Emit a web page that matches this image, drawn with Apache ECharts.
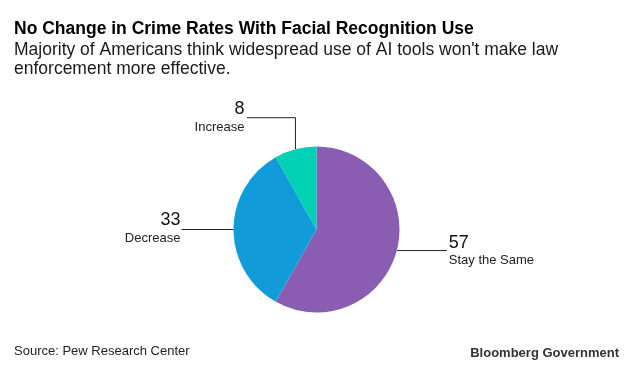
<!DOCTYPE html>
<html>
<head>
<meta charset="utf-8">
<script src="https://cdn.jsdelivr.net/npm/echarts@6/dist/echarts.min.js"></script>
<style>
  html, body { margin: 0; padding: 0; background: #fff; }
  #chart { width: 633px; height: 370px; }
</style>
</head>
<body>
<div id="chart"></div>
<script>
const titleText = 'No Change in Crime Rates With Facial Recognition Use';
const subtitleText = "Majority of Americans think widespread use of AI tools won't make law\nenforcement more effective.";
const sourceText = 'Source: Pew Research Center';
const brandText = 'Bloomberg Government';

const categories = ['Stay the Same', 'Decrease', 'Increase'];
const values = [57, 33, 8];
const colors = ['#8a5db3', '#119cd9', '#00d1b5'];

const FONT = '"Liberation Sans", Arial, sans-serif';

const chart = echarts.init(document.getElementById('chart'), null, { renderer: 'canvas' });

const data = categories.map((c, i) => ({
  name: c,
  value: values[i],
  itemStyle: { color: colors[i] }
}));

chart.setOption({
  animation: false,
  backgroundColor: '#ffffff',
  title: [
    {
      text: titleText, left: 14, top: 20.5, padding: 0,
      textStyle: { fontFamily: FONT, fontSize: 17.5, fontWeight: 'bold', color: '#000', lineHeight: 17.5 }
    },
    {
      text: subtitleText, left: 14, top: 41, padding: 0,
      textStyle: { fontFamily: FONT, fontSize: 17.5, fontWeight: 'normal', color: '#1a1a1a', lineHeight: 19 }
    },
    {
      text: sourceText, left: 14, top: 345, padding: 0,
      textStyle: { fontFamily: FONT, fontSize: 13, fontWeight: 'normal', color: '#222', lineHeight: 13 }
    },
    {
      text: brandText, right: 14, top: 347, padding: 0,
      textStyle: { fontFamily: FONT, fontSize: 13, fontWeight: 'bold', color: '#333', lineHeight: 13 }
    }
  ],
  series: [{
    type: 'pie',
    center: [316.5, 229.5],
    radius: [0, 83],
    startAngle: 90,
    clockwise: true,
    avoidLabelOverlap: false,
    silent: true,
    itemStyle: { borderWidth: 0 },
    emphasis: { disabled: true },
    label: {
      show: true,
      position: 'outside',
      formatter: p => '{v|' + p.value + '}\n{n|' + p.name + '}',
      rich: {
        v: { fontFamily: FONT, fontSize: 18, lineHeight: 20, color: '#111' },
        n: { fontFamily: FONT, fontSize: 13, lineHeight: 16, color: '#222' }
      }
    },
    labelLine: {
      show: true,
      length: 10,
      length2: 10,
      lineStyle: { color: '#222', width: 1 }
    },
    labelLayout: function (p) {
      const pts = p.labelLinePoints;
      if (!pts) return {};
      const a = pts[0];
      if (p.dataIndex === 0) {
        return {
          x: a[0] + 52, y: a[1], align: 'left', verticalAlign: 'middle',
          labelLinePoints: [[a[0], a[1]], [a[0] + 50, a[1]], [a[0] + 50, a[1]]]
        };
      } else if (p.dataIndex === 1) {
        return {
          x: a[0] - 53, y: a[1] - 1, align: 'right', verticalAlign: 'middle',
          labelLinePoints: [[a[0], a[1]], [a[0] - 52, a[1]], [a[0] - 52, a[1]]]
        };
      } else {
        return {
          x: a[0] - 51, y: a[1] - 32, align: 'right', verticalAlign: 'middle',
          labelLinePoints: [[a[0], a[1]], [a[0], a[1] - 31.5], [a[0] - 48.5, a[1] - 31.5]]
        };
      }
    },
    data: data
  }]
});
</script>
</body>
</html>
